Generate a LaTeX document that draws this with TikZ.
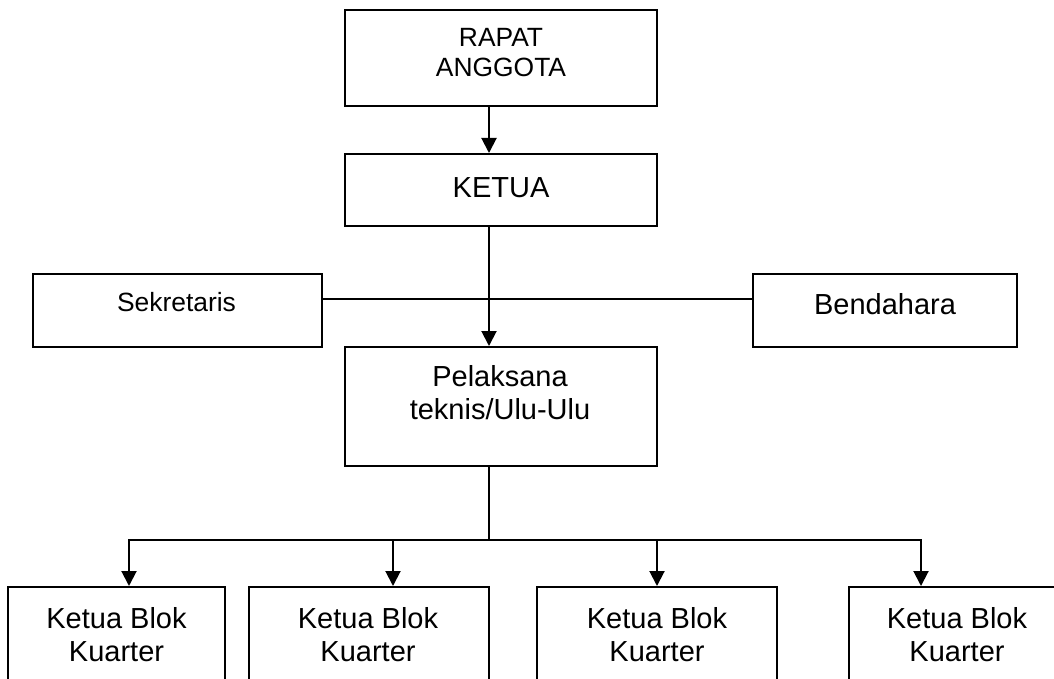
\documentclass[tikz,border=0pt]{standalone}
\usepackage{fontspec}
\setmainfont{Liberation Sans}
\usetikzlibrary{arrows.meta}
\begin{document}
\begin{tikzpicture}[x=1pt,y=-1pt,
  box/.style={draw, line width=2pt, rectangle, inner sep=0pt},
  big/.style={font=\fontsize{29}{33}\selectfont, align=center, inner sep=0pt, anchor=north},
  small/.style={font=\fontsize{26.4}{30}\selectfont, align=center, inner sep=0pt, anchor=north},
  arr/.style={line width=2pt, -{Triangle[length=15pt,width=15pt]}},
  conn/.style={line width=2pt}]
\useasboundingbox (0,0) rectangle (1054,679);
\clip (0,0) rectangle (1054,679);
% boxes
\node[box, minimum width=312pt, minimum height=96pt] (rapat) at (501,58) {};
\node[box, minimum width=312pt, minimum height=72pt] (ketua) at (501,190) {};
\node[box, minimum width=289pt, minimum height=73pt] (sek) at (177.5,310.5) {};
\node[box, minimum width=264pt, minimum height=73pt] (bend) at (885,310.5) {};
\node[box, minimum width=312pt, minimum height=119pt] (pel) at (501,406.5) {};
\node[box, minimum width=217pt, minimum height=133pt] (k1) at (116.5,653.5) {};
\node[box, minimum width=240pt, minimum height=133pt] (k2) at (369,653.5) {};
\node[box, minimum width=240pt, minimum height=133pt] (k3) at (657,653.5) {};
\node[box, minimum width=216pt, minimum height=133pt] (k4) at (957,653.5) {};
% texts
\node[small] (trapat) at (501,28) {RAPAT\\ANGGOTA};
\node[big] (tketua) at (501,177) {KETUA};
\node[small] (tsek) at (176.5,292) {Sekretaris};
\node[big] (tbend) at (885,293) {Bendahara};
\node[big] (tpel) at (500,365) {Pelaksana\\teknis/Ulu-Ulu};
\node[big] (tk1) at (116.5,607) {Ketua Blok\\Kuarter};
\node[big] (tk2) at (368,607) {Ketua Blok\\Kuarter};
\node[big] (tk3) at (657,607) {Ketua Blok\\Kuarter};
\node[big] (tk4) at (957,607) {Ketua Blok\\Kuarter};
% connectors
\draw[arr] ([xshift=-12pt]rapat.south) -- ([xshift=-12pt]ketua.north);
\draw[arr] ([xshift=-12pt]ketua.south) -- ([xshift=-12pt]pel.north);
\draw[conn] ([yshift=11.5pt]sek.east) -- ([yshift=11.5pt]bend.west);
\draw[conn] ([xshift=-12pt]pel.south) -- ++(0,73) coordinate (bus);
\draw[arr] (bus) -| ([xshift=12.5pt]k1.north);
\draw[arr] (bus) -| ([xshift=24pt]k2.north);
\draw[arr] (bus) -| (k3.north);
\draw[arr] (bus) -| ([xshift=-36pt]k4.north);
\end{tikzpicture}
\end{document}
